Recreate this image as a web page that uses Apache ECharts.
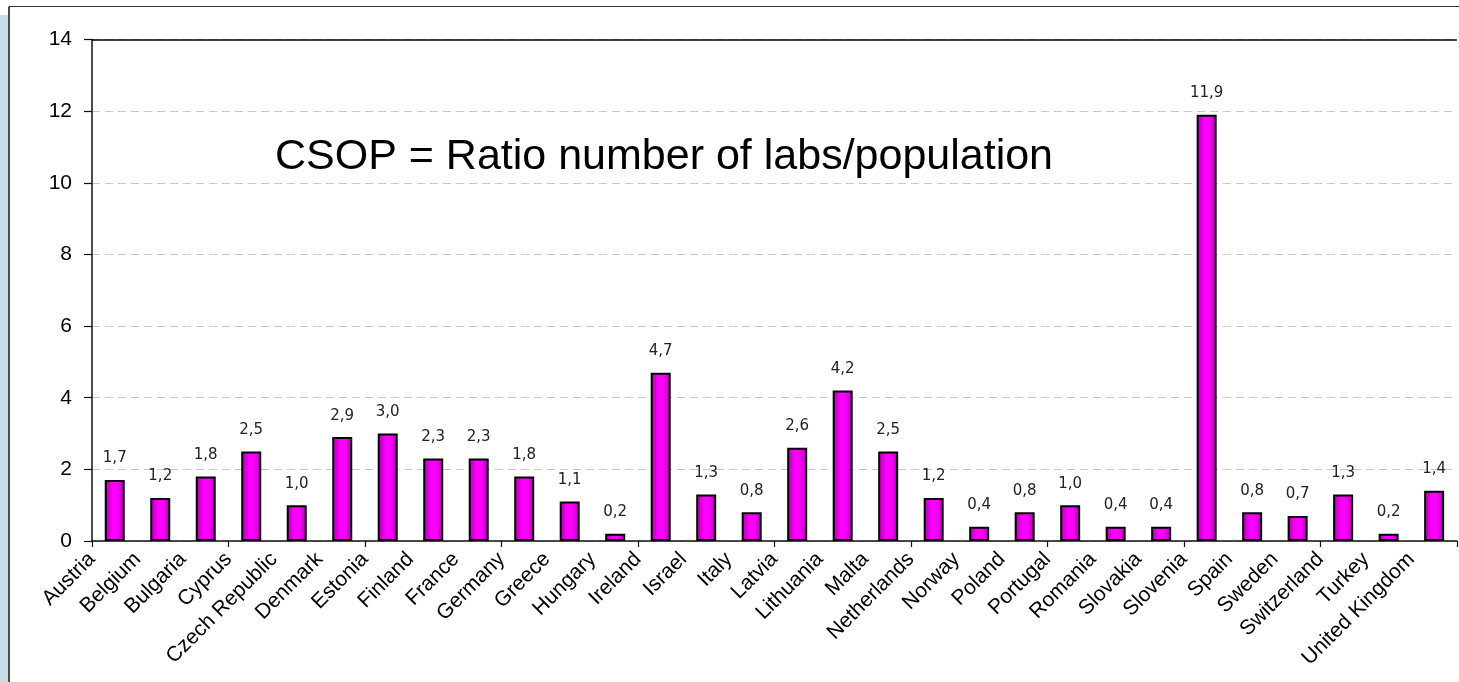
<!DOCTYPE html>
<html>
<head>
<meta charset="utf-8">
<title>CSOP</title>
<script src="https://cdn.jsdelivr.net/npm/echarts@6/dist/echarts.min.js"></script>
<style>
  html, body { margin: 0; padding: 0; background: #ffffff; }
  #chart { width: 1459px; height: 682px; }
</style>
</head>
<body>
<div id="chart"></div>
<script>
// Countries along the category axis
const countries = [
  'Austria', 'Belgium', 'Bulgaria', 'Cyprus', 'Czech Republic', 'Denmark',
  'Estonia', 'Finland', 'France', 'Germany', 'Greece', 'Hungary', 'Ireland',
  'Israel', 'Italy', 'Latvia', 'Lithuania', 'Malta', 'Netherlands', 'Norway',
  'Poland', 'Portugal', 'Romania', 'Slovakia', 'Slovenia', 'Spain', 'Sweden',
  'Switzerland', 'Turkey', 'United Kingdom'
];

// CSOP ratio (number of labs / population) per country
const csop = [
  1.7, 1.2, 1.8, 2.5, 1.0, 2.9, 3.0, 2.3, 2.3, 1.8, 1.1, 0.2, 4.7,
  1.3, 0.8, 2.6, 4.2, 2.5, 1.2, 0.4, 0.8, 1.0, 0.4, 0.4, 11.9, 0.8, 0.7,
  1.3, 0.2, 1.4
];

// Value axis range and step
const yMin = 0, yMax = 14, yStep = 2;

const titleText = 'CSOP = Ratio number of labs/population';

// Names sit on the category boundaries: one extra empty slot closes the axis
const boundaryNames = countries.concat(['']);

const chart = echarts.init(document.getElementById('chart'), null, { renderer: 'canvas' });

const commaDecimal = v => v.toFixed(1).replace('.', ',');

chart.setOption({
  backgroundColor: '#ffffff',
  animation: false,
  grid: { left: 92, top: 39.5, right: -8.5, bottom: 141, containLabel: false },
  xAxis: [
    {
      type: 'category',
      data: countries,
      boundaryGap: true,
      axisLine: { show: true, lineStyle: { color: '#111', width: 1.5 } },
      axisTick: { show: true, length: 6, lineStyle: { color: '#111', width: 1.2 } },
      axisLabel: { show: false },
      splitLine: { show: false }
    },
    {
      type: 'category',
      data: boundaryNames,
      boundaryGap: false,
      position: 'bottom',
      axisLine: { show: false },
      axisTick: { show: false },
      splitLine: { show: false },
      axisLabel: {
        interval: 0,
        rotate: 45,
        margin: 15,
        color: '#000',
        fontFamily: '"Liberation Sans", Arial, sans-serif',
        fontSize: 21
      }
    }
  ],
  yAxis: {
    type: 'value',
    min: yMin,
    max: yMax,
    interval: yStep,
    axisLine: { show: true, lineStyle: { color: '#111', width: 1.5 } },
    axisTick: { show: true, length: 8, lineStyle: { color: '#111', width: 1.2 } },
    axisLabel: {
      margin: 20,
      color: '#000',
      fontFamily: '"Liberation Sans", Arial, sans-serif',
      fontSize: 21
    },
    splitLine: {
      show: true,
      lineStyle: { color: '#c8c8c8', width: 1, type: [8, 5] }
    }
  },
  series: [
    {
      type: 'bar',
      xAxisIndex: 0,
      data: csop,
      barWidth: 20,
      itemStyle: {
        color: new echarts.graphic.LinearGradient(0, 0, 1, 0, [
          { offset: 0, color: '#a800a8' },
          { offset: 0.4, color: '#ff00ff' },
          { offset: 0.6, color: '#ff00ff' },
          { offset: 1, color: '#b000b0' }
        ]),
        borderColor: '#000',
        borderWidth: 2
      },
      label: {
        show: true,
        position: 'top',
        distance: 14,
        color: '#222',
        fontFamily: '"DejaVu Sans", Verdana, sans-serif',
        fontSize: 15,
        formatter: p => commaDecimal(p.value)
      },
      markLine: {
        silent: true,
        symbol: 'none',
        label: { show: false },
        lineStyle: { color: '#000', width: 1.5, type: 'solid' },
        data: [{ yAxis: yMax }]
      }
    }
  ],
  graphic: [
    // Frame strip along the left edge
    {
      type: 'rect',
      shape: { x: 0, y: 15, width: 8, height: 667 },
      style: { fill: '#c6dde6' },
      silent: true
    },
    {
      type: 'line',
      shape: { x1: 9, y1: 6.5, x2: 9, y2: 682 },
      style: { stroke: '#111', lineWidth: 1.5 },
      silent: true
    },
    {
      type: 'line',
      shape: { x1: 9, y1: 6.5, x2: 1459, y2: 6.5 },
      style: { stroke: '#333', lineWidth: 1.2 },
      silent: true
    },
    {
      type: 'text',
      left: 275,
      top: 136,
      style: {
        text: titleText,
        fill: '#000',
        font: '43px "Liberation Sans", Arial, sans-serif'
      },
      silent: true
    }
  ]
});
</script>
</body>
</html>
